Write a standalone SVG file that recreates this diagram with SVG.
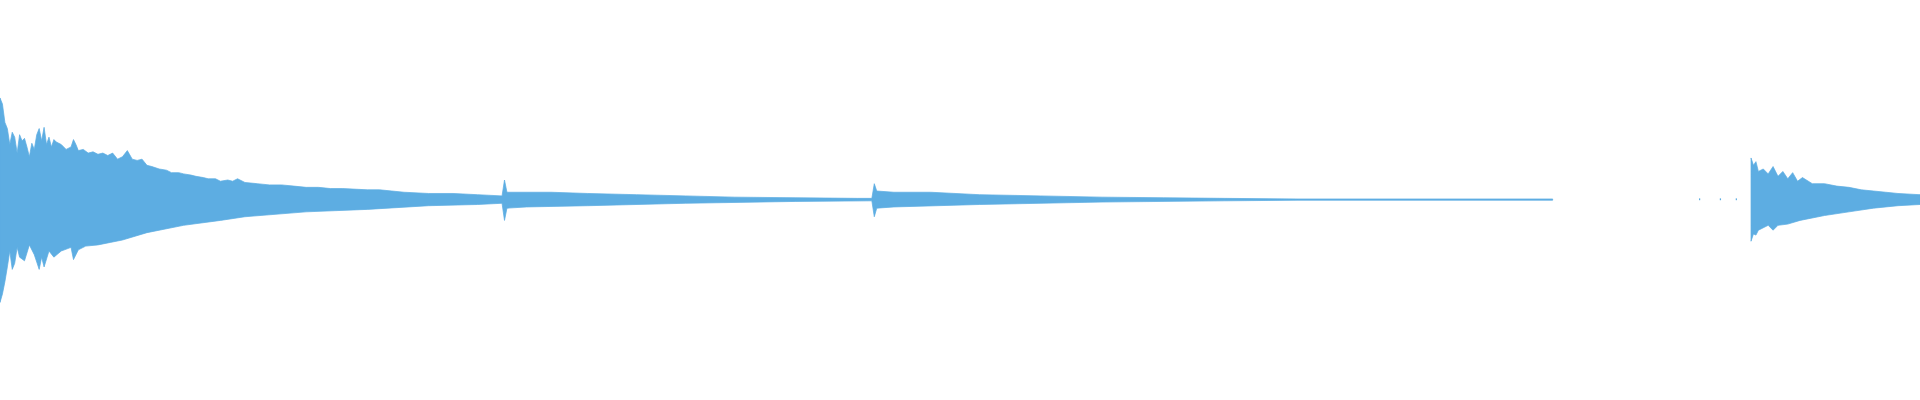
<svg xmlns="http://www.w3.org/2000/svg" width="1920" height="400" viewBox="0 0 1920 400">
<style>.w{fill:#5dade2;stroke:#5dade2;stroke-width:0.6}</style>
<rect width="1920" height="400" fill="#ffffff"/>
<g transform="scale(1.2245)">
<path class="w" d="M0,80 L2,85 4,100 6,105 8,118 10,108 12,112 14,125 16,110 18,115 20,113 22,120 24,128 26,117 28,122 30,110 32,105 34,115 36,104 38,118 40,112 42,120 44,114 46,116 50,118 54,122 58,120 60,114 62,118 64,123 68,122 72,125 76,124 80,126 84,125 88,127 92,125 96,130 100,128 104,123 108,130 112,131 116,130 120,135 124,136 130,138 136,139 140,141 146,141 150,142 156,143 160,144 166,145 170,146 176,146 180,148 186,147 190,148 194,146 200,149 210,150 220,151 230,151 240,152 250,153 260,153 270,154 280,154 300,155 310,155 320,156 330,157 350,158 370,158 390,159 410,160 412,147 414,157 430,157 450,157 480,158 520,159 560,160 600,161 650,161.5 700,162 712,162 714,150 716,156 730,157 760,157 800,159 850,160 900,161 950,161.5 1000,162 1060,162.5 1268,162.5 1268,163.5 1060,163.5 1000,164 900,165 800,167 730,169 716,170 714,177 712,164 650,164.5 560,166 480,168 430,169 414,170 412,180 410,166 390,167 350,168 300,171 250,173 200,177 180,180 150,184 120,190 100,196 90,198 80,200 70,201 64,204 60,212 58,202 50,205 44,210 40,205 36,218 34,210 32,220 30,214 28,208 24,200 20,213 16,210 14,202 12,215 10,220 8,205 6,218 4,230 2,240 0,247 Z"/>
<path class="w" d="M1430,129 L1432,135 1434,132 1436,140 1440,138 1444,142 1448,136 1452,144 1456,140 1460,146 1464,141 1468,148 1472,145 1480,150 1490,150 1500,152 1510,153 1520,155 1530,156 1540,157 1550,158 1568,159 1568,167 1550,168 1530,170 1510,173 1490,176 1470,180 1460,183 1452,184 1448,188 1444,184 1436,188 1434,192 1432,191 1430,197 Z"/>
<rect x="1387.5" y="162" width="1" height="1.5" fill="#5dade2"/>
<rect x="1404.5" y="162" width="1" height="1.5" fill="#5dade2"/>
<rect x="1417.5" y="162" width="1" height="1.5" fill="#5dade2"/>
</g>
</svg>
